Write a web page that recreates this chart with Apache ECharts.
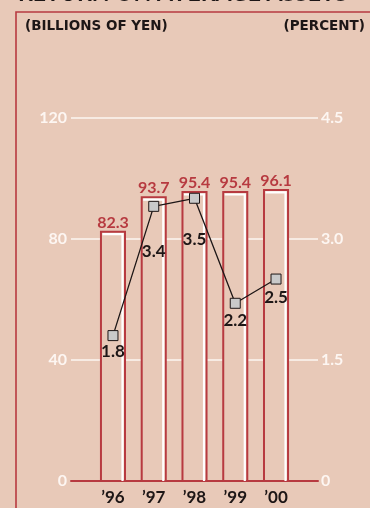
<!DOCTYPE html>
<html>
<head>
<meta charset="utf-8">
<style>
  html, body { margin: 0; padding: 0; background: #e8c9b8; }
  #chart { width: 370px; height: 508px; }
</style>
<script src="https://cdn.jsdelivr.net/npm/echarts@6/dist/echarts.min.js"></script>
</head>
<body>
<div id="chart"></div>
<script>
// Fiscal years shown on the category axis
const years = ['\u201996', '\u201997', '\u201998', '\u201999', '\u201900'];
// Average assets, billions of yen (bars)
const avgAssets = [82.3, 93.7, 95.4, 95.4, 96.1];
// Return on average assets, percent (line)
const roaPercent = [1.8, 3.4, 3.5, 2.2, 2.5];
// Label gap below each line point, px
const roaLabelGap = [2, 31, 27, 3, 4];
// Axis ticks
const yenTicks = [0, 40, 80, 120];
const percentTicks = [0, 1.5, 3.0, 4.5];

const BG = '#e8c9b8';
const RED = '#b73a40';
const INK = '#1d1616';
const WHITE = '#fdf6f2';

const chart = echarts.init(document.getElementById('chart'), null, { renderer: 'canvas' });

const TOP = 117.5, BOTTOM = 27;

function renderBar(params, api) {
  const topPt = api.coord([api.value(0), api.value(1)]);
  const basePt = api.coord([api.value(0), 0]);
  const w = api.size([1, 0])[0] * 0.59;
  const x0 = topPt[0] - w / 2, x1 = topPt[0] + w / 2;
  const y0 = topPt[1], y1 = basePt[1];
  return {
    type: 'group',
    children: [
      { type: 'rect', shape: { x: x0, y: y0, width: w, height: y1 - y0 },
        style: { fill: BG, stroke: RED, lineWidth: 2 } },
      { type: 'polyline', shape: { points: [[x0 + 1.5, y0 + 2.5], [x1 - 2.5, y0 + 2.5], [x1 - 2.5, y1]] },
        style: { stroke: '#ffffff', lineWidth: 2.2, fill: null } },
      { type: 'text', style: { text: api.value(1).toFixed(1), x: topPt[0], y: y0 - 1,
        align: 'center', verticalAlign: 'bottom', fill: RED,
        font: 'bold 16px Lato, sans-serif' } }
    ]
  };
}

const option = {
  backgroundColor: BG,
  animation: false,
  graphic: [
    { type: 'rect', silent: true, shape: { x: 16, y: 12, width: 400, height: 600 },
      style: { fill: null, stroke: RED, lineWidth: 1.6 } },
    { type: 'text', left: 18, top: -18,
      style: { text: 'RETURN ON AVERAGE ASSETS', fill: INK, font: 'bold 23px Lato, sans-serif' } },
    { type: 'text', left: 25, top: 19,
      style: { text: '(BILLIONS OF YEN)', fill: INK, font: 'bold 13.5px "DejaVu Sans", sans-serif' } },
    { type: 'text', right: 5, top: 19,
      style: { text: '(PERCENT)', fill: INK, font: 'bold 13.5px "DejaVu Sans", sans-serif' } }
  ],
  grid: [
    { left: 71, right: 52, top: TOP, bottom: BOTTOM },
    { left: 92.6, right: 73.6, top: TOP, bottom: BOTTOM }
  ],
  xAxis: [
    { gridIndex: 0, type: 'value', min: 0, max: 1,
      axisLine: { show: true, onZero: false, lineStyle: { color: RED, width: 2 } },
      axisTick: { show: false }, axisLabel: { show: false }, splitLine: { show: false } },
    { gridIndex: 1, type: 'category', data: years,
      axisLine: { show: false }, axisTick: { show: false }, splitLine: { show: false },
      axisLabel: { color: INK, fontFamily: 'Lato, sans-serif', fontWeight: 'bold', fontSize: 17, margin: 8 } }
  ],
  yAxis: [
    { gridIndex: 0, type: 'value', position: 'left',
      min: yenTicks[0], max: yenTicks[yenTicks.length - 1], interval: yenTicks[1] - yenTicks[0],
      axisLine: { show: false }, axisTick: { show: false },
      axisLabel: { color: WHITE, fontFamily: 'Lato, sans-serif', fontWeight: 'bold', fontSize: 16, margin: 4 },
      splitLine: { show: true, lineStyle: { color: WHITE, width: 1.5 } } },
    { gridIndex: 0, type: 'value', position: 'right',
      min: percentTicks[0], max: percentTicks[percentTicks.length - 1], interval: percentTicks[1] - percentTicks[0],
      axisLine: { show: false }, axisTick: { show: false }, splitLine: { show: false },
      axisLabel: { color: WHITE, fontFamily: 'Lato, sans-serif', fontWeight: 'bold', fontSize: 16, margin: 3,
        formatter: v => (v === 0 ? '0' : v.toFixed(1)) } },
    { gridIndex: 1, type: 'value', show: false,
      min: yenTicks[0], max: yenTicks[yenTicks.length - 1] },
    { gridIndex: 1, type: 'value', show: false,
      min: percentTicks[0], max: percentTicks[percentTicks.length - 1] }
  ],
  series: [
    {
      name: 'Average assets', type: 'custom', xAxisIndex: 1, yAxisIndex: 2, z: 2,
      renderItem: renderBar,
      data: avgAssets.map((v, i) => [i, v])
    },
    {
      name: 'ROA', type: 'line', xAxisIndex: 1, yAxisIndex: 3, z: 5,
      symbol: 'rect', symbolSize: 10,
      lineStyle: { color: INK, width: 1.3 },
      itemStyle: { color: '#c9c9c9', borderColor: INK, borderWidth: 1 },
      label: { show: true, position: 'bottom', color: INK,
        fontFamily: 'Lato, sans-serif', fontWeight: 'bold', fontSize: 17,
        formatter: p => p.value.toFixed(1) },
      data: roaPercent.map((v, i) => ({ value: v, label: { distance: roaLabelGap[i] } }))
    }
  ]
};

chart.setOption(option);
</script>
</body>
</html>
